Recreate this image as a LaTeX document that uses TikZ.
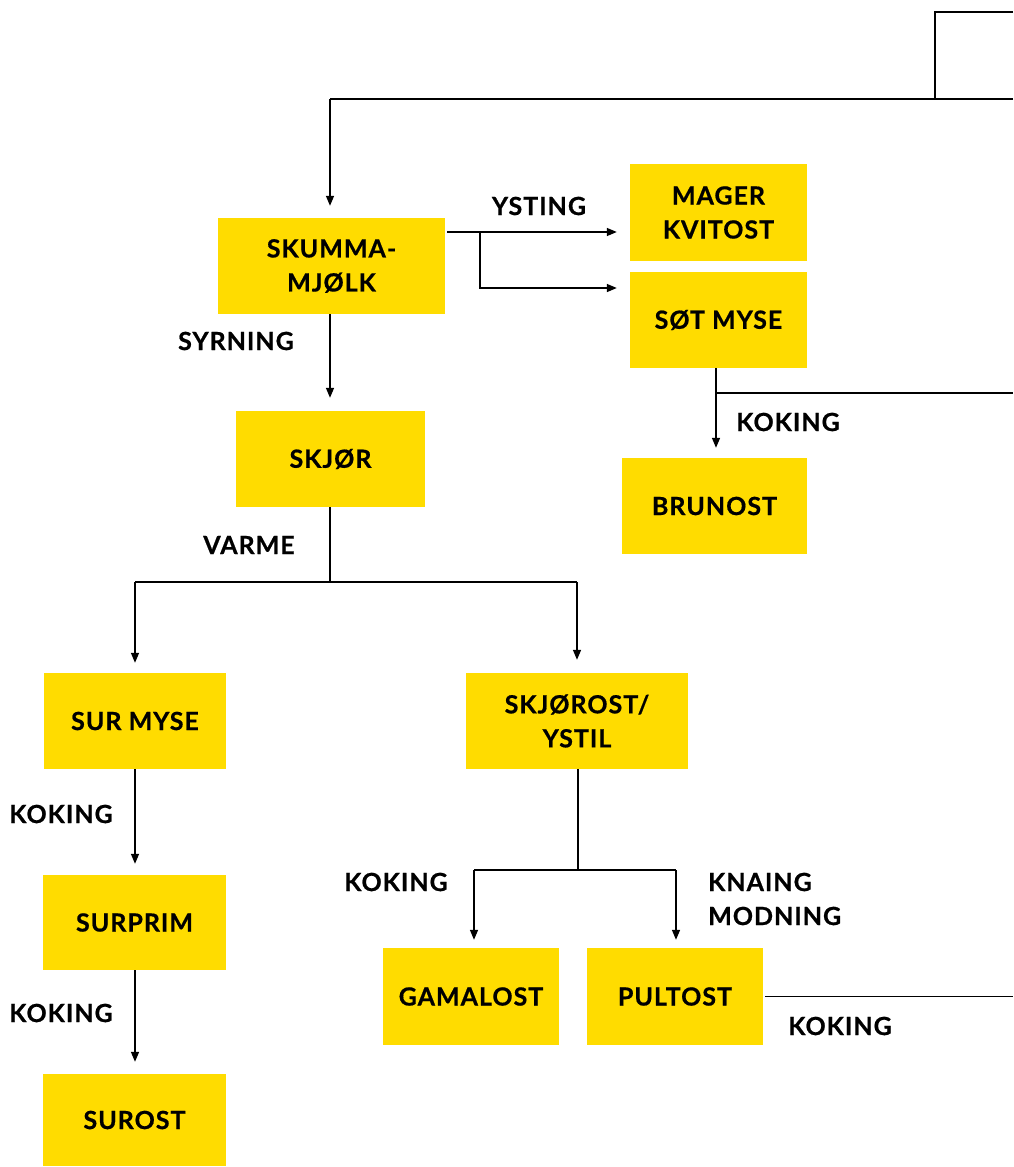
\documentclass[tikz,border=0pt]{standalone}
\usepackage{fontspec}
\setmainfont{Lato}[BoldFeatures={LetterSpace=4,FakeBold=0.6}]
\usetikzlibrary{arrows.meta,calc}
\definecolor{ylw}{HTML}{FFDC00}
\begin{document}
\begin{tikzpicture}[x=1pt,y=-1pt,
  box/.style={fill=ylw,inner sep=0pt,align=center,font=\fontsize{25}{34}\selectfont\bfseries},
  lbl/.style={inner sep=0pt,align=left,font=\fontsize{25}{34}\selectfont\bfseries},
  ln/.style={line width=1.5pt},
  arr/.style={ln,-{Triangle[length=10pt,width=8pt]}}]
\useasboundingbox (0,0) rectangle (1013,1167);
% boxes
\node[box,minimum width=227pt,minimum height=96pt] (skm) at (331.5,266) {SKUMMA-\\MJØLK};
\node[box,minimum width=177pt,minimum height=97pt] (kvit) at (718.5,212.5) {MAGER\\KVITOST};
\node[box,minimum width=177pt,minimum height=96pt] (sot) at (718.5,320) {SØT MYSE};
\node[box,minimum width=189pt,minimum height=96pt] (skjor) at (330.5,459) {SKJØR};
\node[box,minimum width=185pt,minimum height=96pt] (brun) at (714.5,506) {BRUNOST};
\node[box,minimum width=182pt,minimum height=96pt] (sur) at (135,721) {SUR MYSE};
\node[box,minimum width=222pt,minimum height=96pt] (ystil) at (577,721) {SKJØROST/\\YSTIL};
\node[box,minimum width=183pt,minimum height=95pt] (prim) at (134.5,922.5) {SURPRIM};
\node[box,minimum width=183pt,minimum height=92pt] (surost) at (134.5,1120) {SUROST};
\node[box,minimum width=176pt,minimum height=97pt] (gam) at (471,996.5) {GAMALOST};
\node[box,minimum width=176pt,minimum height=97pt] (pult) at (675,996.5) {PULTOST};
% labels
\node[lbl] (lys) at (539,206) {YSTING};
\node[lbl] (lsyr) at (236,341) {SYRNING};
\node[lbl] (lkok1) at (788,422) {KOKING};
\node[lbl] (lvar) at (249,545) {VARME};
\node[lbl] (lkok2) at (61,814) {KOKING};
\node[lbl] (lkok3) at (61,1013) {KOKING};
\node[lbl] (lkok4) at (396,882) {KOKING};
\node[lbl,anchor=west] (lkna) at (708,899) {KNAING\\MODNING};
\node[lbl] (lkok5) at (840,1026) {KOKING};
% coordinates
\coordinate (t1) at (1013,12);
\coordinate (t2) at (935,12);
\coordinate (t3) at (935,99);
\coordinate (t4) at (1013,99);
\coordinate (t5) at (330,99);
\coordinate (sr) at (1013,393);
\coordinate (pr) at (1013,996.5);
\coordinate (b1) at (480,232);
\coordinate (s1) at (716,393);
\coordinate (v1) at (330,582);
\coordinate (v2) at (135,582);
\coordinate (v3) at (577,582);
\coordinate (y1) at (578,870);
\coordinate (y2) at (474,870);
\coordinate (y3) at (676,870);
% connectors
\draw[ln] (t1) -- (t2) -- (t3);
\draw[ln] (t4) -- (t5);
\draw[arr] (t5) -- ($(t5 |- skm.north)+(0,-12)$);
\draw[arr] ($(skm.east |- b1)+(2,0)$) -- ($(kvit.west |- b1)+(-13,0)$);
\draw[arr] (b1) |- ($(sot.west |- 0,288)+(-13,0)$);
\draw[arr] (skm.south -| t5) -- ($(t5 |- skjor.north)+(0,-13)$);
\draw[arr] (sot.south -| s1) -- ($(s1 |- brun.north)+(0,-10)$);
\draw[ln] (s1) -- (sr);
\draw[ln] (skjor.south -| v1) -- (v1);
\draw[ln] (v2) -- (v3);
\draw[arr] (v2) -- ($(v2 |- sur.north)+(0,-10)$);
\draw[arr] (v3) -- ($(ystil.north)+(0,-13)$);
\draw[arr] (sur.south -| v2) -- ($(v2 |- prim.north)+(0,-11)$);
\draw[arr] (prim.south -| v2) -- ($(v2 |- surost.north)+(0,-12)$);
\draw[ln] (ystil.south -| y1) -- (y1);
\draw[ln] (y2) -- (y3);
\draw[arr] (y2) -- ($(y2 |- gam.north)+(0,-8)$);
\draw[arr] (y3) -- ($(y3 |- pult.north)+(0,-8)$);
\draw[ln] ($(pult.east)+(2,0)$) -- (pr);
\end{tikzpicture}
\end{document}
